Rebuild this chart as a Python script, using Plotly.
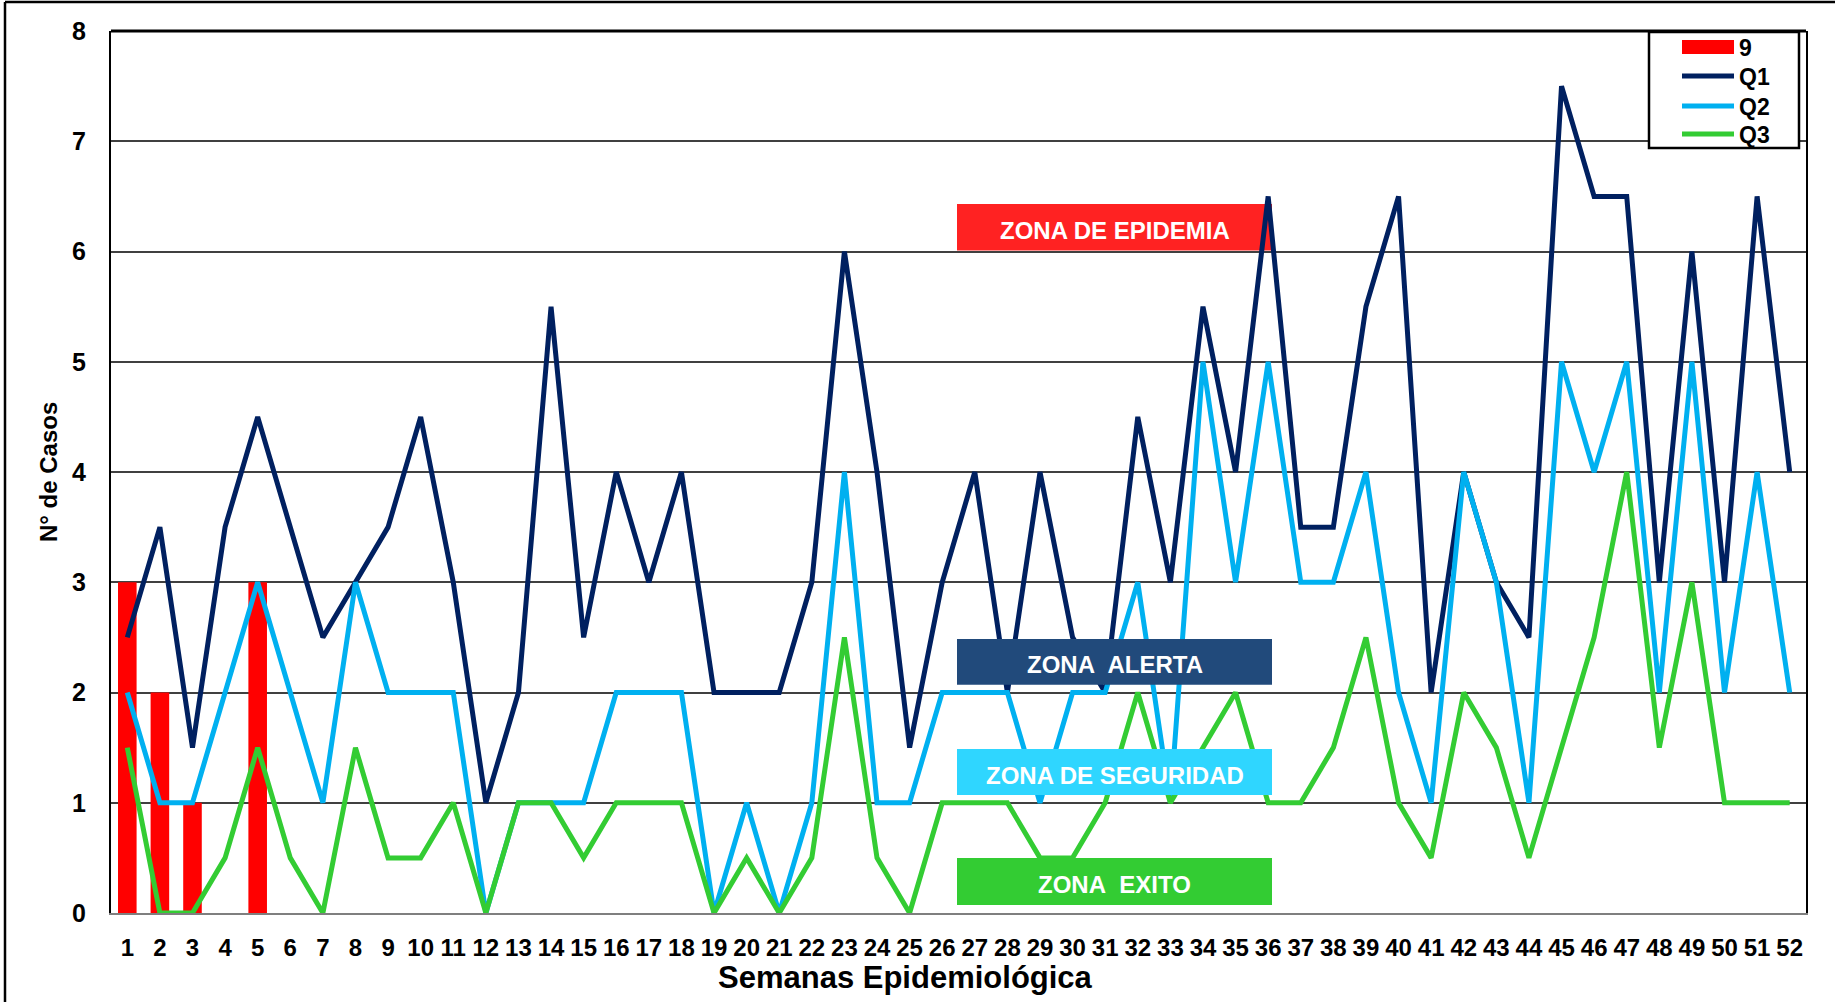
import plotly.graph_objects as go

# ---------------- data ----------------
weeks = [str(i) for i in range(1, 53)]

cases_9 = [3, 2, 1, 0, 3] + [0] * 47

q1 = [2.5, 3.5, 1.5, 3.5, 4.5, 3.5, 2.5, 3, 3.5, 4.5,
      3, 1, 2, 5.5, 2.5, 4, 3, 4, 2, 2,
      2, 3, 6, 4, 1.5, 3, 4, 2, 4, 2.5,
      2, 4.5, 3, 5.5, 4, 6.5, 3.5, 3.5, 5.5, 6.5,
      2, 4, 3, 2.5, 7.5, 6.5, 6.5, 3, 6, 3,
      6.5, 4]

q2 = [2, 1, 1, 2, 3, 2, 1, 3, 2, 2,
      2, 0, 1, 1, 1, 2, 2, 2, 0, 1,
      0, 1, 4, 1, 1, 2, 2, 2, 1, 2,
      2, 3, 1, 5, 3, 5, 3, 3, 4, 2,
      1, 4, 3, 1, 5, 4, 5, 2, 5, 2,
      4, 2]

q3 = [1.5, 0, 0, 0.5, 1.5, 0.5, 0, 1.5, 0.5, 0.5,
      1, 0, 1, 1, 0.5, 1, 1, 1, 0, 0.5,
      0, 0.5, 2.5, 0.5, 0, 1, 1, 1, 0.5, 0.5,
      1, 2, 1, 1.5, 2, 1, 1, 1.5, 2.5, 1,
      0.5, 2, 1.5, 0.5, 1.5, 2.5, 4, 1.5, 3, 1,
      1, 1]

y_ticks = [0, 1, 2, 3, 4, 5, 6, 7, 8]

series_names = ["9", "Q1", "Q2", "Q3"]
series_colors = ["#FF0000", "#002060", "#00B0F0", "#33CC33"]

zone_labels = ["ZONA DE EPIDEMIA", "ZONA\u00a0 ALERTA", "ZONA DE SEGURIDAD", "ZONA\u00a0 EXITO"]
zone_colors = ["#FF2222", "#214A7B", "#2FD6FF", "#33CC33"]
zone_y = [(6.01, 6.43), (2.07, 2.485), (1.07, 1.487), (0.073, 0.499)]

# ---------------- layout geometry ----------------
W, H = 1835, 1002
ML, MR, MT, MB = 111, 29, 31, 89
PW, PH = W - ML - MR, H - MT - MB


def px(xp):
    return (xp - ML) / PW


def py(yp):
    return (H - MB - yp) / PH


FONT = "Liberation Sans, Arial, sans-serif"

fig = go.Figure()
fig.add_bar(x=weeks, y=cases_9, name=series_names[0],
            marker=dict(color=series_colors[0], line_width=0))
for name, col, vals in zip(series_names[1:], series_colors[1:], [q1, q2, q3]):
    fig.add_scatter(x=weeks, y=vals, mode="lines", name=name,
                    line=dict(color=col, width=5))

shapes = []
annotations = []

# zone boxes
bx0, bx1 = px(957), px(1272)
for i, (lab, col, (y0, y1)) in enumerate(zip(zone_labels, zone_colors, zone_y)):
    shapes.append(dict(type="rect", xref="paper", yref="y", x0=bx0, x1=bx1, y0=y0, y1=y1,
                       fillcolor=col, line=dict(width=0),
                       layer="below" if i == 0 else "above"))
    annotations.append(dict(xref="paper", yref="y", x=(bx0 + bx1) / 2, y=(y0 + y1) / 2,
                            text=lab, showarrow=False, yshift=-3,
                            font=dict(family=FONT, size=24, color="white", weight="bold")))

# top frame of the plot area
shapes.append(dict(type="line", xref="paper", yref="paper", x0=0, x1=1, y0=1, y1=1,
                   line=dict(color="black", width=3)))
# outer border of the picture (left and top)
shapes.append(dict(type="line", xref="paper", yref="paper", x0=px(5), x1=px(5),
                   y0=py(H + 5), y1=py(2), line=dict(color="black", width=2.5)))
shapes.append(dict(type="line", xref="paper", yref="paper", x0=px(5), x1=px(W + 5),
                   y0=py(2), y1=py(2), line=dict(color="black", width=2.5)))

# legend (drawn as a framed key)
shapes.append(dict(type="rect", xref="paper", yref="paper", x0=px(1649), x1=px(1799),
                   y0=py(148), y1=py(32), fillcolor="white",
                   line=dict(color="black", width=2.5), layer="above"))
key_y = [47, 76, 106, 134]
for name, col, ky in zip(series_names, series_colors, key_y):
    if name == "9":
        shapes.append(dict(type="rect", xref="paper", yref="paper", x0=px(1682), x1=px(1734),
                           y0=py(ky + 7), y1=py(ky - 7), fillcolor=col,
                           line=dict(width=0), layer="above"))
    else:
        shapes.append(dict(type="line", xref="paper", yref="paper", x0=px(1682), x1=px(1734),
                           y0=py(ky), y1=py(ky), line=dict(color=col, width=5),
                           layer="above"))
    annotations.append(dict(xref="paper", yref="paper", x=px(1737), y=py(ky + 1),
                            text=name, showarrow=False, xanchor="left", yanchor="middle",
                            font=dict(family=FONT, size=23, color="black", weight="bold")))

# axis titles
annotations.append(dict(xref="paper", yref="paper", x=px(905), y=py(978),
                        text="Semanas Epidemiológica", showarrow=False,
                        xanchor="center", yanchor="middle",
                        font=dict(family=FONT, size=31, color="black", weight="bold")))
annotations.append(dict(xref="paper", yref="paper", x=px(48), y=0.5,
                        text="N° de Casos", showarrow=False, textangle=-90,
                        xanchor="center", yanchor="middle",
                        font=dict(family=FONT, size=24, color="black", weight="bold")))

xtickfont = dict(family=FONT, size=24, color="black", weight="bold")
ytickfont = dict(family=FONT, size=25, color="black", weight="bold")

fig.update_layout(
    width=W, height=H,
    margin=dict(l=ML, r=MR, t=MT, b=MB, autoexpand=False),
    paper_bgcolor="white", plot_bgcolor="white",
    bargap=0.43,
    showlegend=False,
    xaxis=dict(type="category", range=[-0.5, 51.5], showgrid=False,
               showline=True, linecolor="#7f7f7f", linewidth=2, ticks="",
               tickangle=0, tickfont=xtickfont, ticklabelstandoff=12, fixedrange=True),
    yaxis=dict(range=[0, 8], tickvals=y_ticks, showgrid=True, gridcolor="#404040",
               gridwidth=1.5, showline=True, linecolor="black", linewidth=2, mirror=True,
               zeroline=False, ticks="", tickfont=ytickfont, ticklabelstandoff=18,
               fixedrange=True),
    shapes=shapes,
    annotations=annotations,
)

fig.write_html("out.html", config={"displayModeBar": False},
               post_script="document.body.style.margin='0px';")
